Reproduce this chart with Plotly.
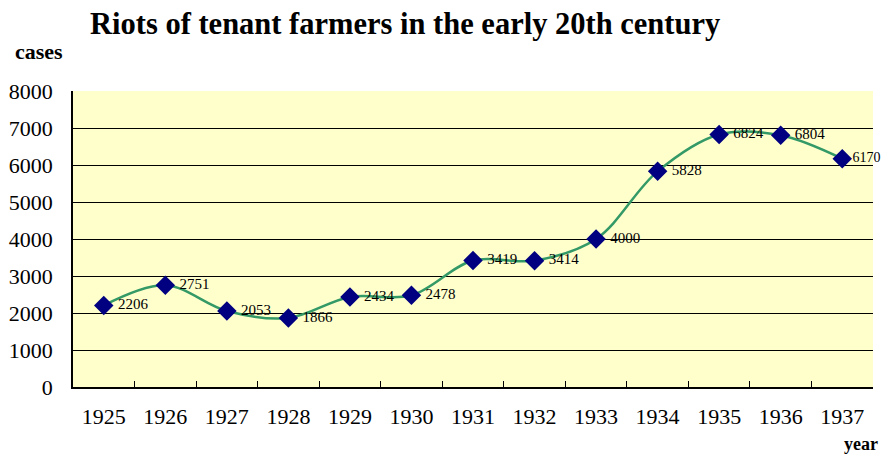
import plotly.graph_objects as go

years = ["1925", "1926", "1927", "1928", "1929", "1930", "1931",
         "1932", "1933", "1934", "1935", "1936", "1937"]
cases = [2206, 2751, 2053, 1866, 2434, 2478, 3419, 3414, 4000, 5828, 6824, 6804, 6170]
y_ticks = [0, 1000, 2000, 3000, 4000, 5000, 6000, 7000, 8000]

FONT = "Liberation Serif, Times New Roman, serif"

W, H = 873, 448
L, R, T, B = 65, 8, 83, 69
PW, PH = W - L - R, H - T - B

# label text: a small gap after each marker; the last one sits at the edge
labels = ["\u00a0" + str(v) for v in cases[:-1]] + [str(cases[-1])]
label_sizes = [15] * (len(cases) - 1) + [14]

fig = go.Figure()
fig.add_trace(go.Scatter(
    x=years, y=cases,
    mode="lines+markers+text",
    line=dict(color="#339966", width=2.5, shape="spline", smoothing=1.0),
    marker=dict(symbol="diamond", size=15, color="#000080"),
    text=labels,
    textposition="middle right",
    textfont=dict(family=FONT, size=label_sizes, color="black"),
    cliponaxis=False,
    showlegend=False,
))

fig.update_layout(
    width=W, height=H,
    margin=dict(l=L, r=R, t=T, b=B),
    paper_bgcolor="white",
    plot_bgcolor="#FFFFCC",
    font=dict(family=FONT, color="black"),
    xaxis=dict(
        type="category", range=[-0.5, 12.5], automargin=False,
        tickson="boundaries", ticks="inside", ticklen=6, tickcolor="black",
        showgrid=False, showline=True, linecolor="black", linewidth=1.5,
        tickfont=dict(family=FONT, size=22), ticklabelstandoff=9,
    ),
    yaxis=dict(
        range=[0, 8000], tickvals=y_ticks, automargin=False,
        ticks="inside", ticklen=5, tickcolor="black",
        showgrid=True, gridcolor="black", gridwidth=1,
        showline=True, linecolor="black", linewidth=1.5,
        zeroline=False,
        tickfont=dict(family=FONT, size=22), ticklabelstandoff=14,
    ),
    annotations=[
        dict(text="<b>Riots of tenant farmers in the early 20th century</b>",
             xref="paper", yref="paper", x=(397 - L) / PW, y=1 + (T - 16) / PH,
             xanchor="center", yanchor="middle", showarrow=False,
             font=dict(family=FONT, size=30.5)),
        dict(text="<b>cases</b>", xref="paper", yref="paper",
             x=(5 - L) / PW, y=1 + (T - 43) / PH, xanchor="left", yanchor="middle",
             showarrow=False, font=dict(family=FONT, size=22)),
        dict(text="<b>year</b>", xref="paper", yref="paper",
             x=(872 - L) / PW, y=-(436 - (H - B)) / PH, xanchor="right", yanchor="middle",
             showarrow=False, font=dict(family=FONT, size=18)),
    ],
)

fig.write_html("out.html")
